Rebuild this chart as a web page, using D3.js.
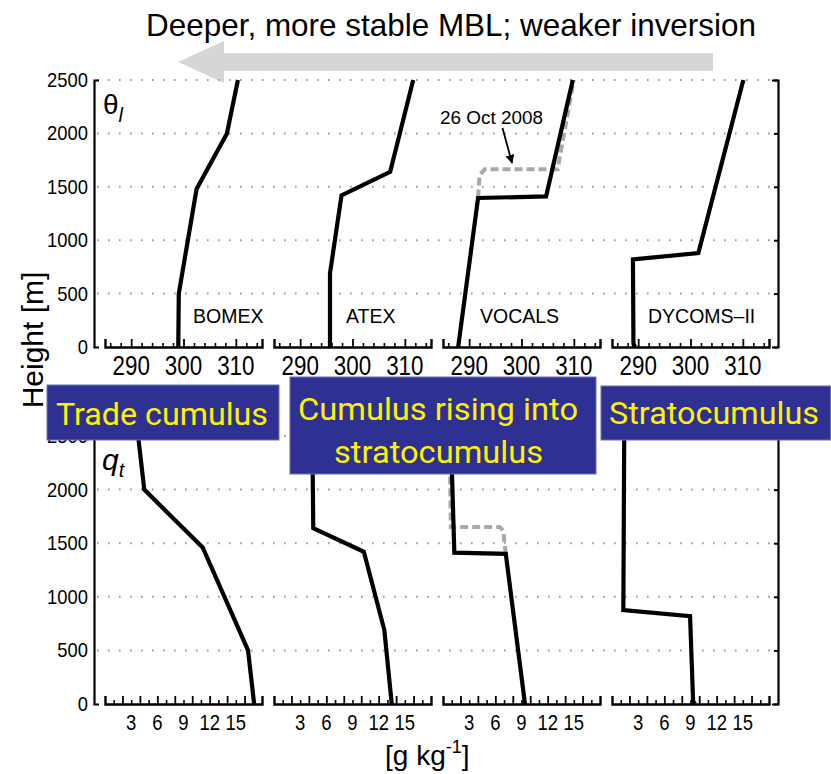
<!DOCTYPE html>
<html>
<head>
<meta charset="utf-8">
<script src="https://cdn.jsdelivr.net/npm/d3@7"></script>
<style>
  html, body { margin: 0; padding: 0; background: #ffffff; }
  svg { display: block; }
</style>
</head>
<body>
<svg id="chart" width="831" height="774"></svg>
<script>
// ---------------- DATA ----------------
const caseNames = ["BOMEX", "ATEX", "VOCALS", "DYCOMS–II"];
const heightTicks = [0, 500, 1000, 1500, 2000, 2500];
const thetaTickLabels = [290, 300, 310];
const qtTickLabels = [3, 6, 9, 12, 15];

// liquid-water potential temperature theta_l [K]: [height m, value]
const thetaBOMEX  = [[0, 299.0], [500, 299.1], [1480, 302.5], [2000, 308.3], [2500, 310.4]];
const thetaATEX   = [[0, 295.7], [690, 295.7], [1420, 297.9], [1640, 307.2], [2500, 311.6]];
const thetaVOCALS = [[0, 287.9], [1395, 291.7], [1410, 304.7], [2500, 309.8]];
const thetaDYCOMS = [[0, 289.4], [30, 289.1], [820, 289.0], [880, 301.5], [2500, 310.1]];
const thetaOct26  = [[1400, 291.7], [1610, 292.0], [1665, 293.0], [1665, 306.9], [2500, 310.0]];

// total water mixing ratio q_t [g/kg]: [height m, value]
const qtBOMEX  = [[0, 17.1], [500, 16.4], [1460, 11.2], [2000, 4.5], [2500, 3.8]];
const qtATEX   = [[0, 13.5], [690, 12.65], [1420, 10.3], [1640, 4.5], [2500, 4.4]];
const qtVOCALS = [[0, 9.4], [1400, 7.2], [1412, 1.3], [2500, 0.9]];
const qtDYCOMS = [[0, 9.5], [25, 9.3], [820, 8.95], [875, 1.3], [2500, 1.4]];
const qtOct26  = [[1400, 7.2], [1470, 7.1], [1620, 6.9], [1650, 6.5], [1650, 0.9], [2500, 0.75]];

const thetaProfiles = [thetaBOMEX, thetaATEX, thetaVOCALS, thetaDYCOMS];
const qtProfiles = [qtBOMEX, qtATEX, qtVOCALS, qtDYCOMS];

const regimeLabels = [["Trade cumulus"], ["Cumulus rising into", "stratocumulus"], ["Stratocumulus"]];
const titleText = "Deeper, more stable MBL; weaker inversion";

// ---------------- LAYOUT ----------------
const svg = d3.select("#chart");
const panelLefts = [105, 274, 443, 612];
const panelW = 157;
const leftAxisX = 94, rightAxisX = 778;
const topRange = [347, 80], botRange = [704, 436];
const thetaDomain = [285, 315], qtDomain = [0, 18];
const FONT = "'Liberation Sans', Arial, Helvetica, sans-serif";
const BOXFONT = "Roboto, 'Noto Sans', sans-serif";

const yTop = d3.scaleLinear().domain([0, 2500]).range(topRange);
const yBot = d3.scaleLinear().domain([0, 2500]).range(botRange);

function text(g, x, y, s, o = {}) {
  const t = g.append("text")
    .attr("transform", `translate(${x},${y}) scale(${o.sx || 1},1)`)
    .attr("font-family", o.family || FONT)
    .attr("font-size", o.size || 20)
    .attr("fill", o.fill || "#000")
    .attr("text-anchor", o.anchor || "start")
    .text(s);
  if (o.style) t.attr("font-style", o.style);
  if (o.len) t.attr("textLength", o.len).attr("lengthAdjust", "spacingAndGlyphs");
  return t;
}

// ---------------- TITLE + ARROW ----------------
text(svg, 146, 36, titleText, { size: 32, len: 610 });
const arrowPts = [[178, 62], [224, 41], [224, 53], [713, 53], [713, 71], [224, 71], [224, 83]];
svg.append("path")
  .attr("d", d3.line()(arrowPts) + "Z")
  .attr("fill", "#d6d6d6");

// ---------------- PANELS ----------------
function drawBlock(y, xDomain, profiles, dashed, minorTicks, majorTicks, labels, labelSize, labelSx, labelBase) {
  const g = svg.append("g");
  // gridlines
  g.selectAll("line.grid").data(heightTicks.filter(d => d > 0)).enter()
    .append("line")
    .attr("x1", leftAxisX + 3).attr("x2", rightAxisX - 2)
    .attr("y1", d => y(d)).attr("y2", d => y(d))
    .attr("stroke", "#9a9a9a").attr("stroke-width", 2)
    .attr("stroke-dasharray", "1.6,9.4");

  // left bracket axis
  g.append("g").attr("transform", `translate(${leftAxisX},0)`)
    .call(d3.axisRight(y).tickValues([]).tickSizeOuter(5))
    .call(a => a.select(".domain").attr("stroke-width", 2.2));
  // right axis with ticks
  g.append("g").attr("transform", `translate(${rightAxisX},0)`)
    .call(d3.axisLeft(y).tickValues(heightTicks).tickSize(4).tickSizeOuter(6).tickFormat(""))
    .call(a => a.select(".domain").attr("stroke-width", 2.2))
    .call(a => a.selectAll(".tick line").attr("stroke-width", 2));

  // y labels
  heightTicks.forEach(h => text(g, 88, y(h) + 7, String(h), { size: 20, anchor: "end", sx: 0.92 }));

  profiles.forEach((prof, i) => {
    const left = panelLefts[i];
    const x = d3.scaleLinear().domain(xDomain).range([left, left + panelW]);
    const ax = g.append("g").attr("transform", `translate(0,${y(0)})`);
    ax.append("g")
      .call(d3.axisBottom(x).tickValues(minorTicks.filter(v => !majorTicks.includes(v))).tickSize(-4).tickSizeOuter(-8).tickFormat(""))
      .call(a => a.select(".domain").attr("stroke-width", 2.4))
      .call(a => a.selectAll(".tick line").attr("stroke-width", 1.6));
    ax.append("g")
      .call(d3.axisBottom(x).tickValues(majorTicks).tickSize(-8).tickSizeOuter(0).tickFormat(""))
      .call(a => a.select(".domain").remove())
      .call(a => a.selectAll(".tick line").attr("stroke-width", 1.8));
    labels.forEach(v => text(g, x(v), labelBase, String(v), { size: labelSize, anchor: "middle", sx: labelSx }));

    const line = d3.line().x(d => x(d[1])).y(d => y(d[0]));
    if (dashed && i === 2) {
      g.append("path").attr("d", line(dashed))
        .attr("fill", "none").attr("stroke", "#a9a9a9").attr("stroke-width", 4)
        .attr("stroke-dasharray", "8,4");
    }
    g.append("path").attr("d", line(prof))
      .attr("fill", "none").attr("stroke", "#000").attr("stroke-width", 4.2)
      .attr("stroke-linejoin", "miter");
  });
  return g;
}

drawBlock(yTop, thetaDomain, thetaProfiles, thetaOct26,
  d3.range(286, 315, 2), [290, 300, 310], thetaTickLabels, 28, 0.8, 375);
drawBlock(yBot, qtDomain, qtProfiles, qtOct26,
  d3.range(1, 18, 1), [2, 4, 6, 8, 10, 12, 14, 16], qtTickLabels, 22, 0.84, 730);

// case names
const namePos = [[193, 323], [346, 323], [480, 323], [648, 323]];
caseNames.forEach((n, i) => text(svg, namePos[i][0], namePos[i][1], n, { size: 19.5 }));

// variable labels
const th = svg.append("text").attr("x", 103).attr("y", 114).attr("font-family", FONT).attr("font-size", 28);
th.append("tspan").text("θ");
th.append("tspan").attr("font-size", 20).attr("font-style", "italic").attr("dy", 8).text("l");
const qt = svg.append("text").attr("x", 102).attr("y", 470).attr("font-family", FONT).attr("font-size", 30).attr("font-style", "italic");
qt.append("tspan").text("q");
qt.append("tspan").attr("font-size", 20).attr("dy", 7).text("t");

// annotation 26 Oct 2008
text(svg, 440, 124, "26 Oct 2008", { size: 18, len: 103 });
svg.append("defs").append("marker").attr("id", "ah").attr("viewBox", "0 0 10 10")
  .attr("refX", 9).attr("refY", 5).attr("markerWidth", 5).attr("markerHeight", 5)
  .attr("orient", "auto").append("path").attr("d", "M0,0L10,5L0,10z").attr("fill", "#000");
svg.append("line").attr("x1", 502.5).attr("y1", 128).attr("x2", 512).attr("y2", 163)
  .attr("stroke", "#000").attr("stroke-width", 1.8).attr("marker-end", "url(#ah)");

// axis titles
svg.append("text").attr("transform", "translate(43,340) rotate(-90)")
  .attr("text-anchor", "middle").attr("font-family", FONT).attr("font-size", 30).text("Height [m]");
const gk = svg.append("text").attr("x", 385).attr("y", 765).attr("font-family", FONT).attr("font-size", 28);
gk.append("tspan").text("[g kg");
gk.append("tspan").attr("font-size", 18).attr("dy", -12).text("-1");
gk.append("tspan").attr("dy", 12).text("]");

// ---------------- REGIME BOXES ----------------
const boxes = [
  { x: 47, y: 385, w: 232, h: 55, lines: regimeLabels[0], base: [425], lx: [56], len: [212] },
  { x: 290, y: 377, w: 306, h: 97, lines: regimeLabels[1], base: [420, 463], lx: [298, 334], len: [280, 209] },
  { x: 601, y: 386, w: 229.5, h: 54, lines: regimeLabels[2], base: [424], lx: [609], len: [210] }
];
boxes.forEach(b => {
  svg.append("rect").attr("x", b.x).attr("y", b.y).attr("width", b.w).attr("height", b.h)
    .attr("fill", "#2e3192").attr("stroke", "#6d70b3").attr("stroke-width", 1);
  b.lines.forEach((l, k) => text(svg, b.lx[k], b.base[k], l,
    { size: 32, family: BOXFONT, fill: "#fff200", len: b.len[k] }));
});
</script>
</body>
</html>
